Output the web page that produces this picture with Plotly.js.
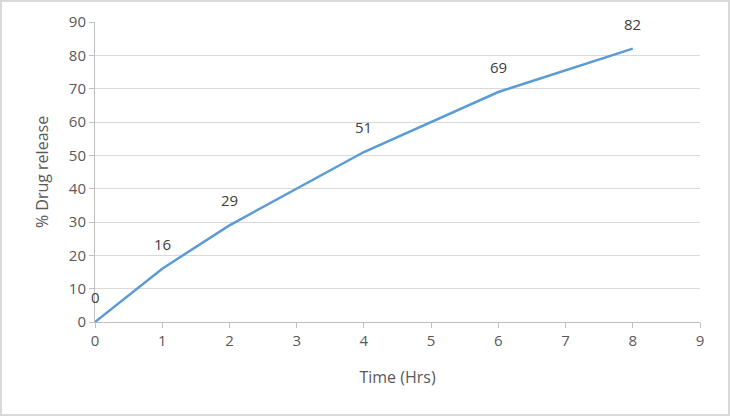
<!DOCTYPE html>
<html>
<head>
<meta charset="utf-8">
<script src="https://cdn.plot.ly/plotly-3.0.1.min.js"></script>
<style>
  html, body { margin: 0; padding: 0; background: #fff; }
  #chart { width: 730px; height: 416px; box-sizing: border-box; border: 2px solid #d9d9d9; }
</style>
</head>
<body>
<div id="chart"></div>
<script>
// Release profile
var timeHrs = [0, 1, 2, 4, 6, 8];
var drugRelease = [0, 16, 29, 51, 69, 82];
var xTicks = [0, 1, 2, 3, 4, 5, 6, 7, 8, 9];
var yTicks = [0, 10, 20, 30, 40, 50, 60, 70, 80, 90];

var font = "Open Sans, Noto Sans, sans-serif";
var grey = '#595959';

var release = {
    x: timeHrs,
    y: drugRelease,
    type: 'scatter',
    mode: 'lines',
    line: { color: '#5b9bd5', width: 2.5 },
    hoverinfo: 'skip',
    cliponaxis: false
};

// value labels sit above each point
var labels = timeHrs.map(function (t, i) {
    return {
        x: t, y: drugRelease[i],
        text: String(drugRelease[i]),
        showarrow: false,
        yshift: 25,
        font: { family: font, size: 15, color: '#404040' }
    };
});

var layout = {
    width: 726,
    height: 412,
    margin: { l: 93, r: 28, t: 20, b: 92 },
    paper_bgcolor: '#fff',
    plot_bgcolor: '#fff',
    showlegend: false,
    font: { family: font, size: 15, color: grey },
    xaxis: {
        range: [0, 9],
        tickvals: xTicks,
        ticks: 'outside',
        ticklen: 5,
        tickcolor: '#bfbfbf',
        showgrid: false,
        zeroline: false,
        showline: true,
        linecolor: '#bfbfbf',
        linewidth: 1,
        tickfont: { family: font, size: 15, color: grey },
        title: { text: 'Time (Hrs)', font: { family: font, size: 16, color: grey }, standoff: 22 }
    },
    yaxis: {
        range: [0, 90],
        tickvals: yTicks,
        ticks: 'outside',
        ticklen: 5,
        tickcolor: '#bfbfbf',
        showgrid: true,
        gridcolor: '#d9d9d9',
        gridwidth: 1,
        zeroline: false,
        showline: true,
        linecolor: '#bfbfbf',
        linewidth: 1,
        tickfont: { family: font, size: 15, color: grey },
        title: { text: '% Drug release', font: { family: font, size: 16, color: grey }, standoff: 16 }
    },
    annotations: labels
};

Plotly.newPlot('chart', [release], layout, { displayModeBar: false, staticPlot: true });
</script>
</body>
</html>
